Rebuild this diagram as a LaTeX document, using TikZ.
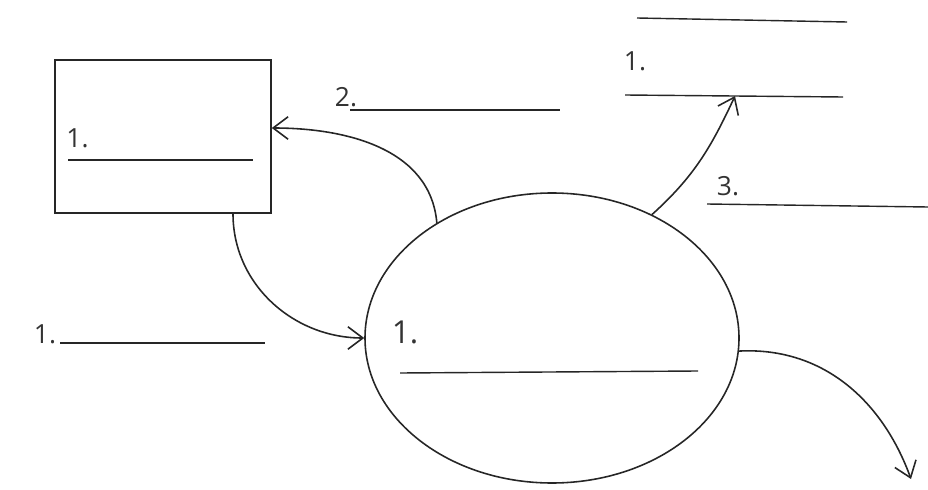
\documentclass[tikz,border=0pt]{standalone}
\usepackage{fontspec}
\setsansfont{Open Sans}
\usetikzlibrary{shapes.geometric,arrows.meta}

\begin{document}
\begin{tikzpicture}[line width=0.9pt, draw=black!85,
    blank/.style={line width=0.8pt},
    flow/.style={->, >={Straight Barb[length=3mm,width=4.5mm]}},
    lbl/.style={font=\sffamily\fontsize{15}{15}\selectfont, text=black!80, inner sep=0pt}]
\useasboundingbox (0,0) rectangle (18.56,9.78);

\node [draw, minimum width=4.32cm, minimum height=3.06cm] (entity) at (3.26,7.05) {};
\node [ellipse, draw, minimum width=7.48cm, minimum height=5.8cm] (process) at (11.04,3.02) {};

\node [lbl] (entnum) at (1.55,7.02) {1.};       % name of the entity
\draw [blank] (1.36,6.58) -- (5.06,6.58);

\node [lbl, font=\sffamily\fontsize{18}{18}\selectfont] (procnum) at (8.1,3.14) {1.}; % name of the process
\draw [blank] (8.0,2.32) -- (13.96,2.36);

\draw [blank] (12.74,9.42) -- (16.94,9.34);     % data store
\node [lbl] (storenum) at (12.7,8.56) {1.};
\draw [blank] (12.5,7.88) -- (16.86,7.84);
\coordinate (storein) at (14.7,7.86);

\coordinate (sink) at (18.22,0.2);

% data flows
\draw [flow] ([xshift=1.4cm]entity.south) to[out=-90,in=180] (process.west);
\node [lbl] (flowa) at (0.9,3.1) {1.};
\draw [blank] (1.2,2.92) -- (5.3,2.92);

\draw [flow] (process.135) to[out=95,in=0] ([yshift=0.17cm]entity.east);
\node [lbl] (flowb) at (6.92,7.84) {2.};
\draw [blank] (7.0,7.58) -- (11.2,7.58);

\draw [flow] (process.51) to[out=42,in=-115] (storein);
\node [lbl] (flowc) at (14.56,6.06) {3.};
\draw [blank] (14.14,5.7) -- (18.56,5.64);

\draw [flow] (process.-4) to[out=3,in=110] (sink);
\end{tikzpicture}
\end{document}
